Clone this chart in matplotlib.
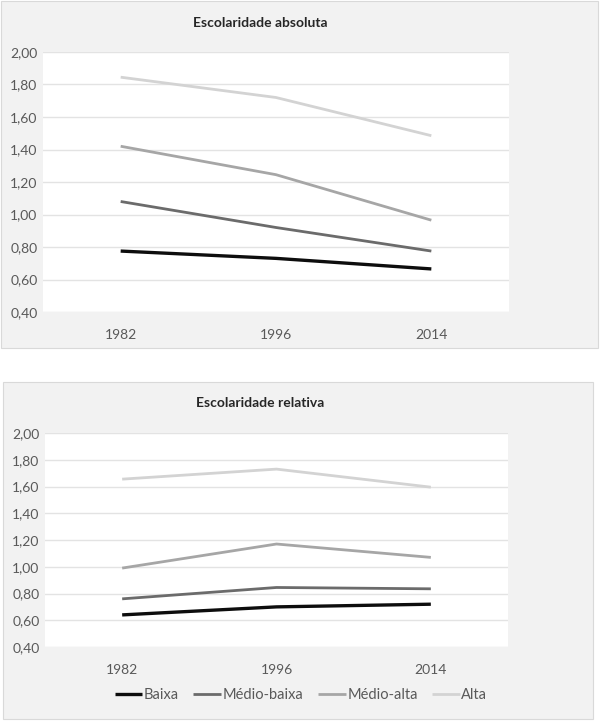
import matplotlib
matplotlib.use("Agg")
import matplotlib.pyplot as plt
from matplotlib.patches import Rectangle
from matplotlib.ticker import FuncFormatter

plt.rcParams['font.family'] = ['Lato', 'DejaVu Sans']

years = ["1982", "1996", "2014"]
series_names = ["Baixa", "Médio-baixa", "Médio-alta", "Alta"]

abs_baixa = [0.775, 0.73, 0.665]
abs_medio_baixa = [1.08, 0.92, 0.775]
abs_medio_alta = [1.42, 1.245, 0.965]
abs_alta = [1.845, 1.72, 1.485]

rel_baixa = [0.64, 0.70, 0.72]
rel_medio_baixa = [0.76, 0.845, 0.835]
rel_medio_alta = [0.99, 1.17, 1.07]
rel_alta = [1.655, 1.73, 1.595]

colors = ["#0d0d0d", "#6b6b6b", "#a6a6a6", "#d3d3d3"]
widths = [2.4, 2.0, 2.0, 2.0]

W, H = 600, 722
fig = plt.figure(figsize=(W / 100, H / 100), dpi=100)
fig.patch.set_facecolor("white")

def px_rect(x0, y0, x1, y1):
    return [x0 / W, 1 - y1 / H, (x1 - x0) / W, (y1 - y0) / H]

# panel backgrounds
for (x0, y0, x1, y1) in [(1, 1, 598, 348), (3, 382, 593, 719)]:
    r = px_rect(x0, y0, x1, y1)
    fig.patches.append(Rectangle((r[0], r[1]), r[2], r[3], transform=fig.transFigure,
                                 facecolor="#f2f2f2", edgecolor="#d9d9d9", linewidth=0.8,
                                 zorder=-10))

fmt = FuncFormatter(lambda v, p: f"{v:.2f}".replace(".", ","))

def setup(ax, title, title_y):
    ax.set_facecolor("white")
    ax.set_xlim(-0.5, 2.5)
    ax.set_ylim(0.4, 2.0)
    ax.set_yticks([0.4 + 0.2 * i for i in range(9)])
    ax.yaxis.set_major_formatter(fmt)
    ax.set_xticks(range(3))
    ax.set_xticklabels(years)
    for s in ax.spines.values():
        s.set_visible(False)
    ax.grid(axis="y", color="#e3e3e3", linewidth=1.0)
    ax.set_axisbelow(True)
    ax.tick_params(axis="both", length=0, labelsize=10, colors="#595959")
    ax.tick_params(axis="x", pad=12)
    ax.tick_params(axis="y", pad=4)
    fig.text(260 / W, 1 - title_y / H, title, ha="center", va="center",
             fontsize=10, fontweight="bold", color="#262626")

ax1 = fig.add_axes(px_rect(43, 52, 509, 312))
setup(ax1, "Escolaridade absoluta", 23)
for vals, c, lw, name in zip([abs_baixa, abs_medio_baixa, abs_medio_alta, abs_alta],
                             colors, widths, series_names):
    ax1.plot(range(3), vals, color=c, linewidth=lw, label=name, solid_capstyle="butt")

ax2 = fig.add_axes(px_rect(45, 433, 508, 647))
setup(ax2, "Escolaridade relativa", 403)
lines = []
for vals, c, lw, name in zip([rel_baixa, rel_medio_baixa, rel_medio_alta, rel_alta],
                             colors, widths, series_names):
    l, = ax2.plot(range(3), vals, color=c, linewidth=lw, label=name, solid_capstyle="butt")
    lines.append(l)

fig.legend(lines, series_names, loc="center", bbox_to_anchor=(301 / W, 1 - 695 / H),
           ncol=4, frameon=False, fontsize=10.5, handlelength=1.9, handletextpad=0.1,
           columnspacing=1.0, labelcolor="#595959", borderpad=0)

fig.savefig("out.png", dpi=100, facecolor="white")
